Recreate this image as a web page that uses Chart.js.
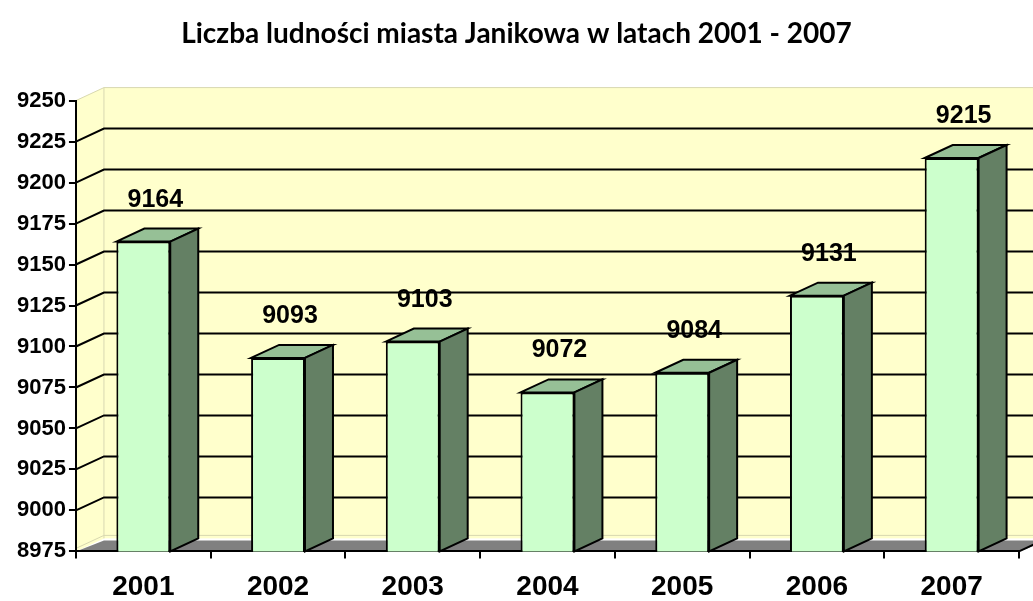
<!DOCTYPE html>
<html>
<head>
<meta charset="utf-8">
<script src="https://cdn.jsdelivr.net/npm/chart.js@4/dist/chart.umd.min.js"></script>
<style>
  html, body { margin: 0; padding: 0; background: #fff; }
</style>
</head>
<body>
<canvas id="chart" width="1033" height="601"></canvas>
<script>
// data
const YEARS = ['2001', '2002', '2003', '2004', '2005', '2006', '2007'];
const POPULATION = [9164, 9093, 9103, 9072, 9084, 9131, 9215];
const Y_MIN = 8975;
const Y_MAX = 9250;
const Y_STEP = 25;
const TITLE = 'Liczba ludności miasta Janikowa w latach 2001 - 2007';

// depth of the fake 3D box (pixels)
const DX = 28, DY = -13;
const WALL = '#FFFFCC', FLOOR = '#808080';
const BAR_FRONT = '#CCFFCC', BAR_TOP = '#96C096', BAR_SIDE = '#648064';
const FONT = '"Liberation Sans", Arial, sans-serif';

const box3d = {
    id: 'box3d',
    beforeDraw(chart) {
        const { ctx, chartArea: { left, right, top, bottom }, scales: { y } } = chart;
        ctx.save();
        // back wall
        ctx.fillStyle = WALL;
        ctx.fillRect(left + DX, top + DY, right - left, bottom - top);
        // left wall
        ctx.beginPath();
        ctx.moveTo(left, top);
        ctx.lineTo(left + DX, top + DY);
        ctx.lineTo(left + DX, bottom + DY);
        ctx.lineTo(left, bottom);
        ctx.closePath();
        ctx.fill();
        // pale wall edges
        ctx.strokeStyle = '#D8D8B0';
        ctx.lineWidth = 1;
        ctx.beginPath();
        ctx.moveTo(left, top);
        ctx.lineTo(left + DX, top + DY);
        ctx.lineTo(right + DX, top + DY);
        ctx.moveTo(left + DX, top + DY);
        ctx.lineTo(left + DX, bottom + DY);
        ctx.moveTo(left, bottom - 3);
        ctx.lineTo(left + DX, bottom + DY - 3);
        ctx.lineTo(right + DX, bottom + DY - 3);
        ctx.stroke();
        // floor
        ctx.fillStyle = FLOOR;
        ctx.beginPath();
        ctx.moveTo(left, bottom);
        ctx.lineTo(right, bottom);
        ctx.lineTo(right + DX, bottom + DY + 2);
        ctx.lineTo(left + DX, bottom + DY + 2);
        ctx.closePath();
        ctx.fill();
        ctx.strokeStyle = '#000';
        ctx.lineWidth = 2;
        ctx.beginPath();
        ctx.moveTo(right, bottom);
        ctx.lineTo(right + DX, bottom + DY);
        ctx.stroke();
        // gridlines on left and back walls
        y.ticks.forEach(t => {
            if (t.value <= Y_MIN || t.value >= Y_MAX) return;
            const py = y.getPixelForValue(t.value);
            ctx.beginPath();
            ctx.moveTo(left, py);
            ctx.lineTo(left + DX, py + DY);
            ctx.lineTo(right + DX, py + DY);
            ctx.stroke();
        });
        ctx.restore();
    },
    afterDatasetsDraw(chart) {
        const { ctx, chartArea } = chart;
        const meta = chart.getDatasetMeta(0);
        ctx.save();
        ctx.lineWidth = 2;
        ctx.strokeStyle = '#000';
        meta.data.forEach((bar, i) => {
            const p = bar.getProps(['x', 'y', 'base', 'width'], true);
            const y = p.y, base = Math.min(p.base, chartArea.bottom);
            const l = p.x - p.width / 2, r = p.x + p.width / 2;
            // top face
            ctx.fillStyle = BAR_TOP;
            ctx.beginPath();
            ctx.moveTo(l, y);
            ctx.lineTo(l + DX, y + DY);
            ctx.lineTo(r + DX, y + DY);
            ctx.lineTo(r, y);
            ctx.closePath();
            ctx.fill();
            ctx.stroke();
            // side face
            ctx.fillStyle = BAR_SIDE;
            ctx.beginPath();
            ctx.moveTo(r, y);
            ctx.lineTo(r + DX, y + DY);
            ctx.lineTo(r + DX, base + DY);
            ctx.lineTo(r, base);
            ctx.closePath();
            ctx.fill();
            ctx.stroke();
            // value label
            ctx.fillStyle = '#000';
            ctx.font = 'bold 25px ' + FONT;
            ctx.textAlign = 'center';
            ctx.textBaseline = 'alphabetic';
            ctx.fillText(String(POPULATION[i]), p.x + 12, y + DY - 22);
        });
        ctx.restore();
    }
};

new Chart(document.getElementById('chart'), {
    type: 'bar',
    data: {
        labels: YEARS,
        datasets: [{
            data: POPULATION,
            backgroundColor: BAR_FRONT,
            borderColor: '#000',
            borderWidth: 2,
            borderSkipped: false,
            barPercentage: 0.4,
            categoryPercentage: 1.0
        }]
    },
    options: {
        responsive: false,
        animation: false,
        layout: { padding: { left: 14, right: 14, top: 0, bottom: -15 } },
        plugins: {
            legend: { display: false },
            tooltip: { enabled: false },
            title: {
                display: true,
                text: TITLE,
                color: '#000',
                font: { family: 'Lato', size: 28, weight: 'bold' },
                padding: { top: 17, bottom: 50 }
            }
        },
        scales: {
            y: {
                min: Y_MIN,
                max: Y_MAX,
                ticks: {
                    stepSize: Y_STEP, color: '#000', padding: 3,
                    font: { family: FONT, size: 22, weight: 'bold' },
                    callback: v => String(v)
                },
                grid: { drawOnChartArea: false, tickLength: 7, color: '#000', lineWidth: 2 },
                border: { color: '#000', width: 2 }
            },
            x: {
                ticks: { color: '#000', padding: 12, font: { family: FONT, size: 28, weight: 'bold' } },
                grid: { offset: true, drawOnChartArea: false, tickLength: 7, color: '#000', lineWidth: 2 },
                border: { color: '#000', width: 2 }
            }
        }
    },
    plugins: [box3d]
});
</script>
</body>
</html>
